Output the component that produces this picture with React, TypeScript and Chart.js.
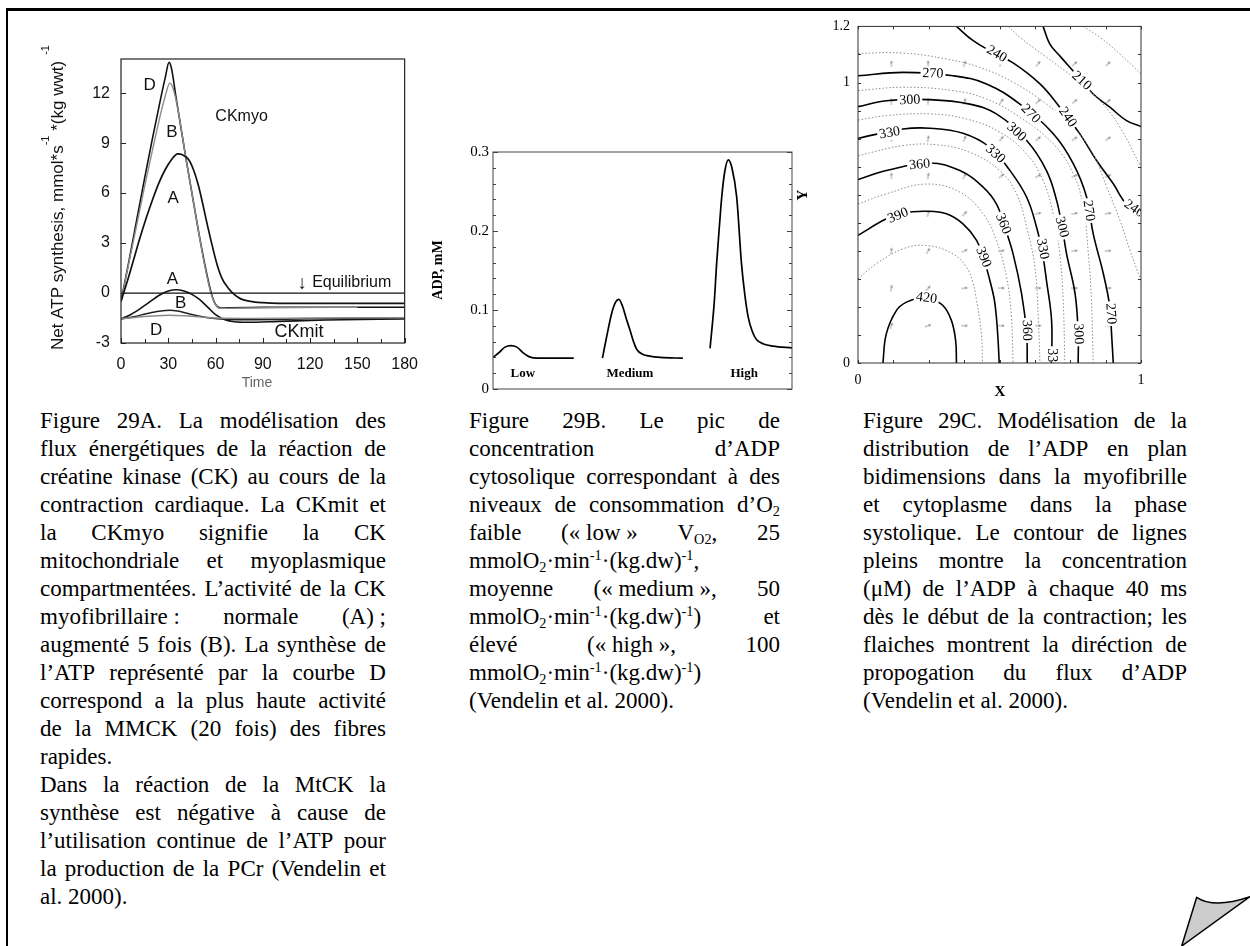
import React, { useEffect, useRef } from "react";
import { Chart, registerables } from "chart.js";

Chart.register(...registerables);

const SANS = "'Liberation Sans', Arial, sans-serif";
const SERIF = "'Liberation Serif', 'Times New Roman', serif";

// ================= Figure 29A data =================
const A_X_TICKS = [0, 30, 60, 90, 120, 150, 180];
const A_X_MINOR = [15, 45, 75, 105, 135, 165];
const A_Y_TICKS = [-3, 0, 3, 6, 9, 12];

const A_T_MYO_D = [0, 5, 10, 15, 20, 25, 28, 30.5, 32, 35, 41, 45, 49, 53, 57, 59, 61, 64, 70, 90, 120, 150, 180];
const A_MYO_D = [-0.5, 1.9, 4.4, 6.9, 9.3, 11.6, 12.9, 13.85, 13.5, 11.7, 8.2, 6.0, 3.8, 1.8, 0.1, -0.5, -0.8, -0.9, -0.88, -0.85, -0.85, -0.85, -0.85];

const A_T_MYO_B = [0, 5, 10, 15, 20, 25, 28, 31, 33, 36, 41, 45, 49, 53, 57, 60, 62, 65, 80, 110, 150];
const A_MYO_B = [-0.5, 1.8, 4.1, 6.4, 8.6, 10.7, 11.8, 12.6, 12.3, 11.1, 8.2, 6.0, 3.8, 1.7, 0.0, -0.7, -0.9, -0.92, -0.9, -0.87, -0.85];

const A_T_MYO_A = [0, 4, 8, 12, 16, 20, 24, 28, 32, 36, 39, 43, 46, 49, 52, 55, 58, 61, 64, 68, 72, 76, 82, 90, 100, 130, 180];
const A_MYO_A = [-0.5, 0.7, 2.0, 3.3, 4.5, 5.6, 6.6, 7.4, 8.0, 8.35, 8.3, 8.0, 7.4, 6.5, 5.3, 4.0, 2.8, 1.7, 0.9, 0.3, -0.1, -0.35, -0.5, -0.58, -0.62, -0.62, -0.62];

const A_T_MIT_A = [0, 6, 12, 18, 24, 30, 35, 40, 45, 50, 55, 60, 66, 72, 80, 100, 130, 180];
const A_MIT_A = [-1.55, -1.3, -0.95, -0.55, -0.15, 0.12, 0.2, 0.12, -0.08, -0.4, -0.85, -1.3, -1.6, -1.72, -1.75, -1.7, -1.62, -1.55];

const A_T_MIT_B = [0, 8, 16, 24, 31, 36, 42, 50, 58, 66, 80, 120, 180];
const A_MIT_B = [-1.55, -1.42, -1.25, -1.1, -1.03, -1.08, -1.22, -1.4, -1.52, -1.57, -1.6, -1.55, -1.5];

const A_T_MIT_D = [0, 10, 20, 30, 40, 50, 60, 80, 120, 180];
const A_MIT_D = [-1.55, -1.45, -1.38, -1.33, -1.36, -1.43, -1.5, -1.52, -1.5, -1.48];

const A_T_EQ = [0, 180];
const A_EQ = [0, 0];

// ================= Figure 29B data =================
const B_Y_TICKS = [0, 0.1, 0.2, 0.3];
const B_X_LOW = [0, 2, 4, 6, 8, 10, 12, 15, 20, 27];
const B_LOW = [0.04, 0.046, 0.053, 0.055, 0.053, 0.046, 0.041, 0.039, 0.039, 0.039];
const B_X_MED = [36.6, 38, 39.7, 41, 42.1, 43.3, 44.5, 45.8, 47, 48.1, 50, 52, 56, 63.5];
const B_MED = [0.039, 0.066, 0.096, 0.11, 0.1135, 0.105, 0.09, 0.0747, 0.06, 0.05, 0.044, 0.042, 0.04, 0.039];
const B_X_HIGH = [72.6, 74, 74.8, 75.7, 76.5, 77.5, 78.7, 79.9, 81.5, 83.1, 84.2, 85.3, 86.7, 88.1, 90.5, 93.6, 100];
const B_HIGH = [0.0515, 0.11, 0.159, 0.205, 0.243, 0.275, 0.29, 0.28, 0.243, 0.159, 0.12, 0.092, 0.073, 0.0626, 0.057, 0.0543, 0.052];
const B_LEVELS = ["Low", "Medium", "High"];
const B_LEVEL_X = [10, 45.8, 84];

// ================= Figure 29C data =================
const C_X_TICKS = [0, 1];
const C_Y_TICKS = [0, 1, 1.2];

const C_420_X = [0.088, 0.1, 0.136, 0.171, 0.218, 0.254, 0.3, 0.33, 0.345, 0.348];
const C_420_Y = [0, 0.104, 0.1875, 0.217, 0.231, 0.229, 0.205, 0.152, 0.08, 0];
const C_390_X = [0, 0.1, 0.159, 0.242, 0.3125, 0.371, 0.419, 0.445, 0.466, 0.481, 0.489, 0.495, 0.499];
const C_390_Y = [0.455, 0.514, 0.535, 0.541, 0.532, 0.496, 0.437, 0.37, 0.294, 0.23, 0.164, 0.08, 0];
const C_360_X = [0, 0.1, 0.254, 0.36, 0.442, 0.489, 0.52, 0.548, 0.578, 0.596, 0.598];
const C_360_Y = [0.654, 0.686, 0.713, 0.686, 0.627, 0.567, 0.48, 0.389, 0.247, 0.104, 0];
const C_330_X = [0, 0.159, 0.254, 0.371, 0.466, 0.537, 0.596, 0.631, 0.652, 0.666, 0.684, 0.684];
const C_330_Y = [0.801, 0.834, 0.837, 0.819, 0.769, 0.686, 0.591, 0.484, 0.39, 0.294, 0.152, 0];
const C_300_X = [0, 0.1, 0.254, 0.395, 0.489, 0.596, 0.666, 0.702, 0.722, 0.737, 0.767, 0.778, 0.778];
const C_300_Y = [0.914, 0.935, 0.939, 0.923, 0.888, 0.793, 0.686, 0.579, 0.48, 0.389, 0.247, 0.104, 0];
const C_270_X = [0, 0.159, 0.336, 0.454, 0.572, 0.69, 0.761, 0.808, 0.831, 0.867, 0.89, 0.896, 0.902];
const C_270_Y = [1.024, 1.036, 1.024, 0.995, 0.923, 0.817, 0.71, 0.591, 0.461, 0.318, 0.2, 0.104, 0];
const C_240_X = [0.348, 0.407, 0.472, 0.548, 0.643, 0.713, 0.784, 0.843, 0.902, 0.949, 1.0];
const C_240_Y = [1.2, 1.149, 1.11, 1.07, 0.995, 0.912, 0.817, 0.722, 0.639, 0.567, 0.544];
const C_210_X = [0.654, 0.678, 0.713, 0.77, 0.831, 0.89, 0.949, 1.0];
const C_210_Y = [1.2, 1.137, 1.095, 1.03, 0.959, 0.912, 0.864, 0.843];

const C_405_X = [0, 0.065, 0.159, 0.242, 0.336, 0.383, 0.405, 0.419, 0.436, 0.44];
const C_405_Y = [0.3, 0.354, 0.407, 0.419, 0.389, 0.342, 0.29, 0.223, 0.104, 0];
const C_375_X = [0, 0.1, 0.242, 0.36, 0.442, 0.489, 0.525, 0.542, 0.548];
const C_375_Y = [0.567, 0.603, 0.638, 0.609, 0.532, 0.437, 0.306, 0.164, 0];
const C_345_X = [0, 0.159, 0.277, 0.395, 0.501, 0.56, 0.596, 0.625, 0.637, 0.643];
const C_345_Y = [0.739, 0.775, 0.778, 0.751, 0.686, 0.603, 0.484, 0.342, 0.164, 0];
const C_315_X = [0, 0.1, 0.254, 0.383, 0.501, 0.596, 0.654, 0.69, 0.713, 0.725, 0.731];
const C_315_Y = [0.866, 0.882, 0.888, 0.87, 0.823, 0.745, 0.65, 0.532, 0.389, 0.223, 0];
const C_285_X = [0, 0.159, 0.336, 0.454, 0.572, 0.69, 0.761, 0.796, 0.814, 0.825, 0.831];
const C_285_Y = [0.971, 0.983, 0.971, 0.941, 0.876, 0.781, 0.674, 0.556, 0.389, 0.223, 0];
const C_255_X = [0, 0.159, 0.312, 0.43, 0.548, 0.666, 0.761, 0.831, 0.879, 0.926, 0.961, 1.0];
const C_255_Y = [1.104, 1.105, 1.084, 1.054, 1.001, 0.923, 0.84, 0.745, 0.627, 0.508, 0.401, 0.294];
const C_225_X = [0.531, 0.572, 0.666, 0.761, 0.855, 0.926, 1.0];
const C_225_Y = [1.2, 1.161, 1.09, 1.018, 0.935, 0.84, 0.698];
const C_195_X = [0.796, 0.855, 0.926, 1.0];
const C_195_Y = [1.2, 1.161, 1.101, 1.03];

// contour labels: value, x, y, angle (deg)
const C_LABEL_TEXT = ["240", "210", "270", "300", "270", "240", "330", "300", "330", "360", "240", "390", "360", "300", "270", "330", "390", "420", "360", "300", "270", "330"];
const C_LABEL_X = [0.49, 0.79, 0.265, 0.183, 0.61, 0.74, 0.112, 0.56, 0.485, 0.218, 0.975, 0.142, 0.513, 0.72, 0.815, 0.652, 0.443, 0.242, 0.596, 0.778, 0.893, 0.684];
const C_LABEL_Y = [1.101, 1.006, 1.031, 0.937, 0.888, 0.876, 0.82, 0.823, 0.745, 0.707, 0.55, 0.525, 0.496, 0.484, 0.543, 0.407, 0.377, 0.231, 0.116, 0.104, 0.176, 0.015];
const C_LABEL_ANGLE = [30, 42, 2, -2, 45, 55, -10, 42, 42, -5, 35, -22, 68, 75, 82, 80, 68, 8, 88, 88, 86, 90];

// flux arrows
const C_ARROW_COLS = [0.118, 0.248, 0.377, 0.507, 0.637, 0.766, 0.884];
const C_ARROW_ROWS = [1.067, 0.933, 0.8, 0.667, 0.533, 0.4, 0.267, 0.133];
const C_ARROW_ANGLES = [
  [0, 0, 20, 35, 40, 45, 45],
  [0, 5, 20, 35, 45, 50, 50],
  [0, 10, 25, 40, 50, 55, 55],
  [0, 10, 30, 50, 60, 65, 65],
  [0, 15, 45, 65, 75, 80, 80],
  [5, 30, 65, 80, 85, 85, 85],
  [10, 45, 80, 90, 90, 90, 90],
  [20, 70, 90, 90, 90, 90, 90],
];

// ================= helpers =================
const pts = (xs: number[], ys: number[]) => xs.map((x, i) => ({ x, y: ys[i] }));
const steps = (a: number, b: number, s: number) => {
  const out: number[] = [];
  for (let v = a; v <= b + 1e-9; v += s) out.push(Math.round(v * 1000) / 1000);
  return out;
};

type Tick = { axis: string; side: string; values: number[]; len: number };
const framePlugin = (color: string, width: number, ticks: Tick[]) => ({
  id: "frame",
  afterDatasetsDraw(chart: any) {
    const { ctx, chartArea: a, scales } = chart;
    ctx.save();
    ctx.strokeStyle = color;
    ctx.lineWidth = width;
    ctx.strokeRect(a.left, a.top, a.right - a.left, a.bottom - a.top);
    ctx.lineWidth = 1;
    for (const t of ticks) {
      const sc = scales[t.axis];
      for (const v of t.values) {
        const p = Math.round(sc.getPixelForValue(v)) + 0.5;
        ctx.beginPath();
        if (t.side === "bottom") { ctx.moveTo(p, a.bottom); ctx.lineTo(p, a.bottom - t.len); }
        if (t.side === "top") { ctx.moveTo(p, a.top); ctx.lineTo(p, a.top + t.len); }
        if (t.side === "left") { ctx.moveTo(a.left, p); ctx.lineTo(a.left + t.len, p); }
        if (t.side === "right") { ctx.moveTo(a.right, p); ctx.lineTo(a.right - t.len, p); }
        ctx.stroke();
      }
    }
    ctx.restore();
  },
});

type TextItem = {
  text: string; x?: number; y?: number; px?: number; py?: number; font: string;
  color?: string; align?: string; rotate?: number; bg?: string; clip?: boolean;
};
const textPlugin = (items: TextItem[]) => ({
  id: "texts",
  afterDatasetsDraw(chart: any) {
    const { ctx, scales, chartArea: a } = chart;
    for (const it of items) {
      const X = it.px !== undefined ? it.px : scales.x.getPixelForValue(it.x);
      const Y = it.py !== undefined ? it.py : scales.y.getPixelForValue(it.y);
      ctx.save();
      if (it.clip) {
        ctx.beginPath();
        ctx.rect(a.left + 1, a.top + 1, a.right - a.left - 2, a.bottom - a.top - 2);
        ctx.clip();
      }
      ctx.translate(X, Y);
      ctx.rotate(((it.rotate || 0) * Math.PI) / 180);
      ctx.font = it.font;
      ctx.textAlign = it.align || "center";
      ctx.textBaseline = "middle";
      if (it.bg) {
        const w = ctx.measureText(it.text).width;
        ctx.fillStyle = it.bg;
        ctx.fillRect(-w / 2 - 2, -7, w + 4, 14);
      }
      ctx.fillStyle = it.color || "#000";
      ctx.fillText(it.text, 0, 0);
      ctx.restore();
    }
  },
});

const richYTitle = (px: number, py: number, pieces: { t: string; sup?: boolean }[]) => ({
  id: "richYTitle",
  afterDraw(chart: any) {
    const ctx = chart.ctx;
    ctx.save();
    ctx.translate(px, py);
    ctx.rotate(-Math.PI / 2);
    ctx.textBaseline = "middle";
    ctx.textAlign = "left";
    ctx.fillStyle = "#111";
    let cx = 0;
    for (const p of pieces) {
      ctx.font = p.sup ? `11px ${SANS}` : `17px ${SANS}`;
      ctx.fillText(p.t, cx, p.sup ? -12 : 0);
      cx += ctx.measureText(p.t).width;
    }
    ctx.restore();
  },
});

const baseOptions = (padding: any) => ({
  responsive: false,
  animation: false,
  events: [],
  layout: { padding },
  plugins: { legend: { display: false }, tooltip: { enabled: false } },
});

// ================= chart configs =================
function configA() {
  const ds = (xs: number[], ys: number[], color: string, w = 1.6) => ({
    data: pts(xs, ys), borderColor: color, borderWidth: w, pointRadius: 0,
    cubicInterpolationMode: "monotone", fill: false,
  });
  const labelFont = `17px ${SANS}`;
  const texts: TextItem[] = [
    { text: "D", x: 18.1, y: 12.49, font: labelFont, color: "#111" },
    { text: "B", x: 32.3, y: 9.63, font: labelFont, color: "#111" },
    { text: "A", x: 33.1, y: 5.66, font: labelFont, color: "#111" },
    { text: "CKmyo", x: 76.5, y: 10.59, font: `16px ${SANS}`, color: "#111" },
    { text: "A", x: 32.7, y: 0.81, font: labelFont, color: "#111" },
    { text: "B", x: 37.9, y: -0.63, font: labelFont, color: "#111" },
    { text: "D", x: 22.3, y: -2.24, font: labelFont, color: "#111" },
    { text: "CKmit", x: 113, y: -2.34, font: `18px ${SANS}`, color: "#111" },
    { text: "↓", x: 115, y: 0.56, font: `19px ${SANS}`, color: "#111" },
    { text: "Equilibrium", x: 121.3, y: 0.6, font: `16px ${SANS}`, color: "#111", align: "left" },
    { text: "Time", px: 247, py: 373, font: `14px ${SANS}`, color: "#666" },
  ];
  return {
    type: "line",
    data: {
      datasets: [
        ds(A_T_EQ, A_EQ, "#111", 1.3),
        ds(A_T_MIT_D, A_MIT_D, "#8a8a8a", 1.4),
        ds(A_T_MIT_B, A_MIT_B, "#222", 1.5),
        ds(A_T_MIT_A, A_MIT_A, "#111", 1.6),
        ds(A_T_MYO_A, A_MYO_A, "#111", 1.7),
        ds(A_T_MYO_B, A_MYO_B, "#8a8a8a", 1.4),
        ds(A_T_MYO_D, A_MYO_D, "#111", 1.6),
      ],
    },
    options: {
      ...baseOptions({ top: 49, right: 21, left: 0, bottom: 0 }),
      scales: {
        x: {
          type: "linear", min: 0, max: 180,
          grid: { display: false, drawTicks: false }, border: { display: false },
          afterBuildTicks: (s: any) => { s.ticks = A_X_TICKS.map((v) => ({ value: v })); },
          afterFit: (s: any) => { s.height = 52; },
          ticks: { font: { family: SANS, size: 16 }, color: "#111", padding: 12, maxRotation: 0, autoSkip: false, callback: (v: any) => String(v) },
        },
        y: {
          type: "linear", min: -3, max: 14.05,
          grid: { display: false, drawTicks: false }, border: { display: false },
          afterBuildTicks: (s: any) => { s.ticks = A_Y_TICKS.map((v) => ({ value: v })); },
          afterFit: (s: any) => { s.width = 111; },
          ticks: { font: { family: SANS, size: 16 }, color: "#111", padding: 11, autoSkip: false, callback: (v: any) => String(v) },
        },
      },
    },
    plugins: [
      textPlugin(texts),
      framePlugin("#222", 1.2, [
        { axis: "x", side: "bottom", values: A_X_TICKS, len: 5 },
        { axis: "x", side: "bottom", values: A_X_MINOR, len: 4 },
        { axis: "y", side: "left", values: A_Y_TICKS, len: 5 },
      ]),
      richYTitle(48, 340, [
        { t: "Net ATP synthesis, mmol*s" },
        { t: "-1", sup: true },
        { t: " *(kg wwt)" },
        { t: "  -1", sup: true },
      ]),
    ],
  };
}

function configB() {
  const ds = (xs: number[], ys: number[]) => ({
    data: pts(xs, ys), borderColor: "#000", borderWidth: 1.7, pointRadius: 0,
    cubicInterpolationMode: "monotone", fill: false,
  });
  const texts: TextItem[] = B_LEVELS.map((t, i) => ({
    text: t, x: B_LEVEL_X[i], y: 0.02, font: `bold 13px ${SERIF}`, color: "#000",
  }));
  texts.push({ text: "ADP, mM", px: 13, py: 140, rotate: -90, font: `bold 14px ${SERIF}`, color: "#000" });
  const minor = steps(0, 0.3, 0.02);
  return {
    type: "line",
    data: { datasets: [ds(B_X_LOW, B_LOW), ds(B_X_MED, B_MED), ds(B_X_HIGH, B_HIGH)] },
    options: {
      ...baseOptions({ top: 22, right: 18, left: 0, bottom: 0 }),
      scales: {
        x: {
          type: "linear", min: 0, max: 100,
          grid: { display: false, drawTicks: false }, border: { display: false },
          ticks: { display: false },
          afterFit: (s: any) => { s.height = 16; },
        },
        y: {
          type: "linear", min: 0, max: 0.3,
          grid: { display: false, drawTicks: false }, border: { display: false },
          afterBuildTicks: (s: any) => { s.ticks = B_Y_TICKS.map((v) => ({ value: v })); },
          afterFit: (s: any) => { s.width = 68; },
          ticks: { font: { family: SERIF, size: 15 }, color: "#000", padding: 4, autoSkip: false, callback: (v: any) => String(v) },
        },
      },
    },
    plugins: [
      textPlugin(texts),
      framePlugin("#444", 1, [
        { axis: "y", side: "left", values: B_Y_TICKS, len: 5 },
        { axis: "y", side: "left", values: minor, len: 3 },
        { axis: "y", side: "right", values: B_Y_TICKS, len: 5 },
        { axis: "y", side: "right", values: minor, len: 3 },
      ]),
    ],
  };
}

function makeArrow() {
  const c = document.createElement("canvas");
  c.width = 4;
  c.height = 7;
  const g = c.getContext("2d")!;
  g.strokeStyle = "#8a8a8a";
  g.fillStyle = "#8a8a8a";
  g.lineWidth = 0.8;
  g.beginPath(); g.moveTo(2, 7); g.lineTo(2, 2.5); g.stroke();
  g.beginPath(); g.moveTo(0.7, 3); g.lineTo(2, 0); g.lineTo(3.3, 3); g.closePath(); g.fill();
  return c;
}

function configC() {
  const solid = (xs: number[], ys: number[]) => ({
    data: pts(xs, ys), borderColor: "#000", borderWidth: 1.6, pointRadius: 0, tension: 0.4, fill: false,
  });
  const dotted = (xs: number[], ys: number[]) => ({
    data: pts(xs, ys), borderColor: "#8c8c8c", borderWidth: 1, borderDash: [1.5, 2], pointRadius: 0, tension: 0.4, fill: false,
  });
  const arrow = makeArrow();
  const arrowPts: { x: number; y: number }[] = [];
  const arrowRot: number[] = [];
  C_ARROW_ROWS.forEach((y, r) => C_ARROW_COLS.forEach((x, c) => {
    arrowPts.push({ x, y });
    arrowRot.push(C_ARROW_ANGLES[r][c]);
  }));
  const texts: TextItem[] = C_LABEL_TEXT.map((t, i) => ({
    text: t, x: C_LABEL_X[i], y: C_LABEL_Y[i], rotate: C_LABEL_ANGLE[i],
    font: `14px ${SERIF}`, color: "#000", bg: "#fff", clip: true,
  }));
  texts.push({ text: "Y", px: 6, py: 185, rotate: -90, font: `bold 15px ${SERIF}`, color: "#000" });
  texts.push({ text: "X", px: 203, py: 382, font: `bold 15px ${SERIF}`, color: "#000" });
  const yMinor = steps(0, 1.2, 0.1);
  const xMinor = steps(0, 1, 0.125);
  return {
    type: "line",
    data: {
      datasets: [
        dotted(C_405_X, C_405_Y), dotted(C_375_X, C_375_Y), dotted(C_345_X, C_345_Y),
        dotted(C_315_X, C_315_Y), dotted(C_285_X, C_285_Y), dotted(C_255_X, C_255_Y),
        dotted(C_225_X, C_225_Y), dotted(C_195_X, C_195_Y),
        solid(C_420_X, C_420_Y), solid(C_390_X, C_390_Y), solid(C_360_X, C_360_Y),
        solid(C_330_X, C_330_Y), solid(C_300_X, C_300_Y), solid(C_270_X, C_270_Y),
        solid(C_240_X, C_240_Y), solid(C_210_X, C_210_Y),
        {
          data: arrowPts, showLine: false, pointStyle: arrow, pointRotation: arrowRot,
          pointRadius: 3, borderWidth: 0, backgroundColor: "#888", borderColor: "#888",
        },
      ],
    },
    options: {
      ...baseOptions({ top: 16, right: 96, left: 0, bottom: 0 }),
      scales: {
        x: {
          type: "linear", min: 0, max: 1,
          grid: { display: false, drawTicks: false }, border: { display: false },
          afterBuildTicks: (s: any) => { s.ticks = C_X_TICKS.map((v) => ({ value: v })); },
          afterFit: (s: any) => { s.height = 40; },
          ticks: { font: { family: SERIF, size: 14 }, color: "#000", padding: 9, maxRotation: 0, autoSkip: false, callback: (v: any) => String(v) },
        },
        y: {
          type: "linear", min: 0, max: 1.2,
          grid: { display: false, drawTicks: false }, border: { display: false },
          afterBuildTicks: (s: any) => { s.ticks = C_Y_TICKS.map((v) => ({ value: v })); },
          afterFit: (s: any) => { s.width = 61; },
          ticks: { font: { family: SERIF, size: 14 }, color: "#000", padding: 8, autoSkip: false, callback: (v: any) => String(v) },
        },
      },
    },
    plugins: [
      textPlugin(texts),
      framePlugin("#333", 1, [
        { axis: "y", side: "left", values: yMinor, len: 3 },
        { axis: "y", side: "right", values: yMinor, len: 3 },
        { axis: "x", side: "top", values: xMinor, len: 3 },
        { axis: "x", side: "bottom", values: xMinor, len: 3 },
      ]),
    ],
  };
}

// ================= components =================
function ChartBox({ left, top, width, height, build }: any) {
  const ref = useRef<HTMLCanvasElement>(null);
  useEffect(() => {
    const chart = new Chart(ref.current as any, build());
    return () => chart.destroy();
  }, []);
  return (
    <canvas
      ref={ref}
      width={width}
      height={height}
      style={{ position: "absolute", left, top, width, height }}
    />
  );
}

const SUB: React.CSSProperties = { fontSize: "0.62em", verticalAlign: "-0.3em", lineHeight: 0 };
const SUP: React.CSSProperties = { fontSize: "0.62em", verticalAlign: "0.55em", lineHeight: 0 };

type Line = { j: boolean; w: React.ReactNode[] };
const J = (s: string): Line => ({ j: true, w: s.split(" ") });
const L = (s: string): Line => ({ j: false, w: [s] });

const UNIT = (
  <>
    mmolO<sub style={SUB}>2</sub>·min<sup style={SUP}>-1</sup>·(kg.dw)<sup style={SUP}>-1</sup>
  </>
);

const CAPTION_A: Line[] = [
  J("Figure 29A. La modélisation des"),
  J("flux énergétiques de la réaction de"),
  J("créatine kinase (CK) au cours de la"),
  J("contraction cardiaque. La CKmit et"),
  J("la CKmyo signifie la CK"),
  J("mitochondriale et myoplasmique"),
  J("compartmentées. L’activité de la CK"),
  J("myofibrillaire\u00a0: normale (A)\u00a0;"),
  J("augmenté 5 fois (B). La synthèse de"),
  J("l’ATP représenté par la courbe D"),
  J("correspond a la plus haute activité"),
  J("de la MMCK (20 fois) des fibres"),
  L("rapides."),
  J("Dans la réaction de la MtCK la"),
  J("synthèse est négative à cause de"),
  J("l’utilisation continue de l’ATP pour"),
  J("la production de la PCr (Vendelin et"),
  L("al. 2000)."),
];

const CAPTION_B: Line[] = [
  J("Figure 29B. Le pic de"),
  J("concentration d’ADP"),
  J("cytosolique correspondant à des"),
  { j: true, w: ["niveaux", "de", "consommation", <>d’O<sub style={SUB}>2</sub></>] },
  { j: true, w: ["faible", "(«\u00a0low\u00a0»", <>V<sub style={SUB}>O2</sub>,</>, "25"] },
  { j: false, w: [<>{UNIT},</>] },
  { j: true, w: ["moyenne", "(«\u00a0medium\u00a0»,", "50"] },
  { j: true, w: [<>{UNIT})</>, "et"] },
  { j: true, w: ["élevé", "(«\u00a0high\u00a0»,", "100"] },
  { j: false, w: [<>{UNIT})</>] },
  L("(Vendelin et al. 2000)."),
];

const CAPTION_C: Line[] = [
  J("Figure 29C. Modélisation de la"),
  J("distribution de l’ADP en plan"),
  J("bidimensions dans la myofibrille"),
  J("et cytoplasme dans la phase"),
  J("systolique. Le contour de lignes"),
  J("pleins montre la concentration"),
  J("(μM) de l’ADP à chaque 40 ms"),
  J("dès le début de la contraction; les"),
  J("flaiches montrent la diréction de"),
  J("propogation du flux d’ADP"),
  L("(Vendelin et al. 2000)."),
];

function Caption({ left, top, width, lines }: { left: number; top: number; width: number; lines: Line[] }) {
  return (
    <div
      style={{
        position: "absolute", left, top, width, fontFamily: SERIF, fontSize: 23,
        lineHeight: "28px", color: "#000",
      }}
    >
      {lines.map((ln, i) => (
        <div
          key={i}
          style={{
            display: "flex", justifyContent: ln.j ? "space-between" : "flex-start",
            whiteSpace: "pre", height: 28,
          }}
        >
          {ln.w.map((w, k) => (
            <span key={k}>{w}</span>
          ))}
        </div>
      ))}
    </div>
  );
}

export default function App() {
  return (
    <div
      style={{
        position: "absolute", left: 0, top: 0, width: 1250, height: 946,
        background: "#fff", overflow: "hidden",
      }}
    >
      <div
        style={{
          position: "absolute", left: 6, top: 8, width: 1244, height: 938,
          borderTop: "3px solid #000", borderLeft: "2px solid #000", boxSizing: "border-box",
        }}
      />
      <ChartBox left={10} top={10} width={420} height={385} build={configA} />
      <ChartBox left={425} top={130} width={385} height={275} build={configB} />
      <ChartBox left={797} top={10} width={440} height={393} build={configC} />
      <Caption left={40} top={407} width={346} lines={CAPTION_A} />
      <Caption left={469} top={407} width={311} lines={CAPTION_B} />
      <Caption left={863} top={407} width={324} lines={CAPTION_C} />
      <svg
        style={{ position: "absolute", left: 1170, top: 885, overflow: "visible" }}
        width={80}
        height={61}
      >
        <path
          d="M11.7 61 L26.7 12.3 Q44 24 80 11.7 Z"
          fill="#cccccc"
          stroke="#000"
          strokeWidth={1.5}
          strokeLinejoin="round"
        />
      </svg>
    </div>
  );
}
